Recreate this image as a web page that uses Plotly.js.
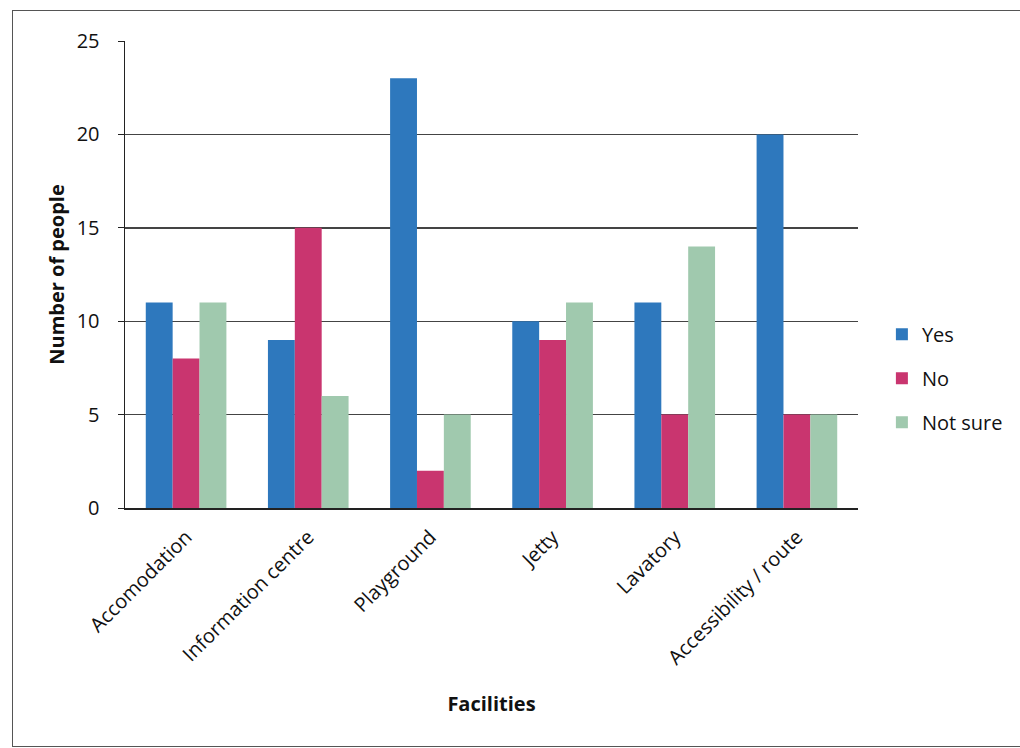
<!DOCTYPE html>
<html>
<head>
<meta charset="utf-8">
<script src="https://cdn.plot.ly/plotly-3.0.1.min.js"></script>
<style>
  html, body { margin: 0; padding: 0; background: #ffffff; }
  #frame { position: absolute; left: 12px; top: 10px; width: 1020px; height: 735px;
           border-left: 1.5px solid #555; border-top: 1.5px solid #555; border-bottom: 1.5px solid #555; }
  #chart { position: absolute; left: 0; top: 0; width: 1020px; height: 748px; }
</style>
</head>
<body>
<div id="frame"></div>
<div id="chart"></div>
<script>
const categories = ["Accomodation", "Information centre", "Playground", "Jetty", "Lavatory", "Accessibility / route"];
const yesValues = [11, 9, 23, 10, 11, 20];
const noValues = [8, 15, 2, 9, 5, 5];
const notSureValues = [11, 6, 5, 11, 14, 5];
const seriesNames = ["Yes", "No", "Not sure"];
const yTicks = [0, 5, 10, 15, 20, 25];

const colors = ["#2e78bd", "#c9356f", "#a0c9ae"];
const font = "'Open Sans', Lato, sans-serif";

const seriesValues = [yesValues, noValues, notSureValues];
const data = seriesValues.map((vals, i) => ({
  type: "bar",
  name: seriesNames[i],
  x: categories,
  y: vals,
  marker: { color: colors[i], line: { width: 0 } },
  legendgroup: "g" + i,
  hoverinfo: "x+y+name"
}));

const layout = {
  width: 1020,
  height: 748,
  paper_bgcolor: "rgba(0,0,0,0)",
  plot_bgcolor: "rgba(0,0,0,0)",
  margin: { l: 125, r: 158, t: 41, b: 240 },
  barmode: "group",
  bargap: 0.34,
  bargroupgap: 0,
  font: { family: font, color: "#111", size: 19 },
  xaxis: {
    type: "category",
    tickangle: -45,
    tickfont: { family: font, size: 20, color: "#111" },
    ticklabelstandoff: 8,
    showgrid: false,
    showline: true,
    linecolor: "#222",
    linewidth: 1.5,
    ticks: "",
    zeroline: false,
    title: { text: "<b>Facilities</b>", font: { family: font, size: 20, color: "#111" }, standoff: 27 }
  },
  yaxis: {
    range: [0, 25],
    tickvals: yTicks,
    ticktext: yTicks.map(String),
    tickfont: { family: font, size: 20, color: "#111" },
    showgrid: true,
    gridcolor: "#444",
    gridwidth: 1.4,
    showline: true,
    linecolor: "#222",
    linewidth: 1.5,
    ticks: "outside",
    ticklen: 6,
    tickcolor: "#222",
    ticklabelstandoff: 14,
    zeroline: false,
    title: { text: "<b>Number of people</b>", font: { family: font, size: 20, color: "#111" }, standoff: 6 }
  },
  legend: {
    x: 1.0326,
    xanchor: "left",
    y: 0.278,
    yanchor: "middle",
    font: { family: font, size: 20, color: "#111" },
    tracegroupgap: 15,
    itemwidth: 30,
    bgcolor: "rgba(0,0,0,0)"
  },
  showlegend: true
};

Plotly.newPlot("chart", data, layout, { displayModeBar: false, staticPlot: true });
</script>
</body>
</html>
